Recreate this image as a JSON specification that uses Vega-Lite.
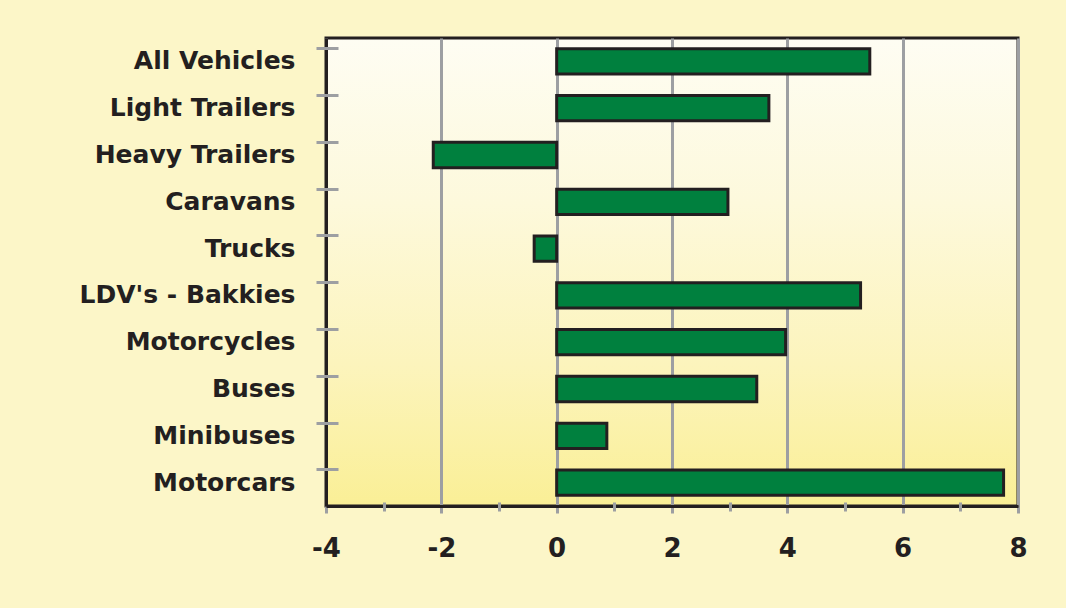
{
  "$schema": "https://vega.github.io/schema/vega-lite/v6.json",
  "width": 692,
  "height": 468,
  "autosize": {"type": "none"},
  "padding": {"left": 326, "top": 38, "right": 48, "bottom": 102},
  "background": "#fcf6c8",
  "data": {
    "values": [
      {"category": "All Vehicles", "value": 5.43},
      {"category": "Light Trailers", "value": 3.68},
      {"category": "Heavy Trailers", "value": -2.14},
      {"category": "Caravans", "value": 2.97},
      {"category": "Trucks", "value": -0.39},
      {"category": "LDV's - Bakkies", "value": 5.27},
      {"category": "Motorcycles", "value": 3.97},
      {"category": "Buses", "value": 3.47},
      {"category": "Minibuses", "value": 0.87},
      {"category": "Motorcars", "value": 7.75}
    ]
  },
  "layer": [
    {
      "mark": {"type": "bar", "fill": "#00803e", "stroke": "#231f20", "strokeWidth": 3},
      "encoding": {
        "y": {
          "field": "category", "type": "nominal", "sort": null,
          "scale": {"paddingInner": 0.46, "paddingOuter": 0.23},
          "axis": {
            "orient": "left", "title": null, "ticks": false,
            "labelFont": "DejaVu Sans", "labelFontWeight": "bold", "labelFontSize": 25,
            "labelColor": "#231f20", "labelPadding": 31, "labelLimit": 400,
            "domainColor": "#231f20", "domainWidth": 3
          }
        },
        "x": {
          "field": "value", "type": "quantitative",
          "scale": {"domain": [-4, 8], "nice": false, "zero": false},
          "axis": {
            "orient": "bottom", "title": null, "values": [-4, -2, 0, 2, 4, 6, 8],
            "labelExpr": "'' + datum.value", "labelFlush": false,
            "labelFont": "DejaVu Sans", "labelFontWeight": "bold", "labelFontSize": 26,
            "labelColor": "#231f20", "labelPadding": 22,
            "tickSize": 7, "tickColor": "#9d9fa2", "tickWidth": 3,
            "grid": true, "gridColor": "#9d9fa2", "gridWidth": 3,
            "domainColor": "#231f20", "domainWidth": 3
          }
        }
      }
    },
    {
      "mark": {"type": "bar", "opacity": 0},
      "encoding": {
        "y": {
          "field": "category", "type": "nominal", "sort": null,
          "axis": {
            "orient": "left", "title": null, "labels": false, "domain": false,
            "offset": -12, "tickSize": 22, "bandPosition": 0,
            "tickColor": "#9d9fa2", "tickWidth": 3, "grid": false
          }
        },
        "x": {
          "field": "value", "type": "quantitative",
          "axis": {
            "orient": "bottom", "title": null, "labels": false, "domain": false,
            "values": [-3, -1, 1, 3, 5, 7],
            "offset": -4, "tickSize": 9,
            "tickColor": "#9d9fa2", "tickWidth": 3, "grid": false
          }
        }
      }
    }
  ],
  "resolve": {"axis": {"x": "independent", "y": "independent"}},
  "config": {
    "view": {
      "stroke": "#231f20", "strokeWidth": 3,
      "fill": {
        "gradient": "linear", "x1": 0, "y1": 0, "x2": 0, "y2": 1,
        "stops": [
          {"offset": 0, "color": "#fefdf3"},
          {"offset": 0.35, "color": "#fdf9dc"},
          {"offset": 0.7, "color": "#fcf4bc"},
          {"offset": 1, "color": "#faef96"}
        ]
      }
    }
  }
}
